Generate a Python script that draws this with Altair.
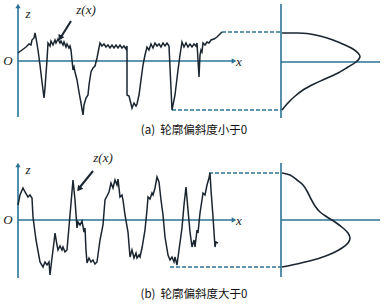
import altair as alt
import pandas as pd

# ---------------- data (diagram coordinates, y grows downward) ----------------
# Profile (a): skewness < 0
prof_a_x = [18, 22, 26, 29, 31, 32, 34, 35, 36, 38, 40, 42, 44, 45, 47, 48, 50, 51, 53, 55,
            56, 58, 60, 61, 63, 64, 66, 67, 69, 70, 71, 72, 73, 74, 75, 77, 79, 81, 83, 84,
            86, 88, 89, 91, 93, 95, 97, 99, 100, 102, 104, 106, 108, 110, 112, 114, 116, 118, 120, 122,
            124, 126, 127, 127, 129, 131, 132, 134, 136, 137, 139, 141, 143, 145, 147, 149, 151, 153, 155, 157,
            159, 161, 163, 165, 167, 169, 172, 175, 178, 180, 182, 184, 186, 188, 190, 192, 194, 196, 197, 198,
            199, 200, 201, 202, 203, 205, 207, 209, 211, 214, 217, 220, 222]
prof_a_y = [53, 50, 47, 44, 45, 40, 38, 33, 38, 50, 65, 82, 98, 88, 60, 43, 46, 41, 45, 40,
            43, 39, 43, 41, 45, 42, 47, 44, 48, 46, 50, 60, 70, 67, 72, 80, 92, 103, 115, 105,
            98, 95, 85, 72, 68, 66, 58, 48, 43, 46, 44, 47, 45, 48, 45, 48, 45, 48, 45, 48,
            46, 49, 46, 95, 96, 104, 108, 103, 106, 104, 95, 80, 65, 55, 47, 50, 44, 48, 43, 46,
            44, 47, 43, 46, 43, 46, 110, 95, 70, 55, 42, 47, 43, 47, 44, 47, 44, 46, 43, 60,
            77, 55, 50, 52, 43, 45, 42, 43, 40, 39, 37, 34, 32]

# Profile (b): skewness > 0
prof_b_x = [18, 20, 23, 25, 28, 30, 32, 33, 36, 40, 43, 45, 47, 49, 50, 52, 54, 55, 57, 58,
            60, 62, 63, 65, 67, 70, 73, 75, 77, 78, 80, 82, 84, 85, 86, 87, 89, 91, 93, 95,
            97, 100, 103, 105, 107, 109, 111, 113, 115, 117, 118, 120, 122, 123, 125, 128, 130, 132, 134, 136,
            137, 139, 140, 142, 145, 147, 148, 150, 152, 153, 155, 157, 159, 161, 163, 165, 168, 170, 172, 174,
            175, 177, 179, 182, 184, 186, 188, 190, 192, 194, 195, 197, 198, 200, 202, 203, 205, 207, 209, 210,
            211, 213, 215, 216, 218]
prof_b_y = [205, 195, 188, 192, 197, 195, 198, 217, 240, 262, 267, 262, 265, 262, 275, 258, 242, 233, 245, 250,
            246, 250, 247, 252, 250, 215, 180, 200, 228, 222, 225, 221, 232, 228, 250, 263, 258, 262, 260, 264,
            262, 240, 225, 200, 196, 192, 183, 188, 180, 185, 179, 197, 195, 200, 215, 232, 257, 250, 258, 253,
            258, 255, 257, 248, 230, 210, 197, 199, 193, 195, 188, 177, 182, 200, 215, 237, 255, 260, 257, 262,
            257, 265, 250, 228, 205, 187, 210, 232, 247, 240, 247, 230, 233, 213, 200, 193, 195, 185, 178, 173,
            190, 217, 247, 242, 243]

# Height distribution curves (right panels)
dist_a_x = [282, 295, 307, 320, 333, 345, 353, 358, 360, 356, 348, 338, 325, 314, 303, 294, 287, 282]
dist_a_y = [33, 33, 33.5, 36, 40, 45, 49, 53, 57, 62, 67, 73, 79, 84, 90, 97, 104, 110]
dist_b_x = [282, 290, 297, 303, 307, 311, 315, 320, 327, 335, 343, 348, 350, 348, 342, 333, 320, 305, 292, 282]
dist_b_y = [173, 175, 180, 185, 191, 199, 206, 212, 217, 222, 228, 233, 238, 243, 248, 253, 258, 262, 265, 267]

# Axes segments: x1, y1, x2, y2
axis_x1 = [18, 18, 281, 281, 18, 18, 281, 281]
axis_y1 = [7, 61, 4, 62, 166, 220, 163, 220]
axis_x2 = [18, 232, 281, 380, 18, 232, 281, 380]
axis_y2 = [117, 61, 118, 62, 278, 220, 277, 220]

# Dashed projection lines
dash_x1 = [222, 172, 209, 170]
dash_y1 = [32, 110, 173, 267]
dash_x2 = [281, 281, 281, 281]
dash_y2 = [32, 110, 173, 267]

# Arrow heads: x, y, angle
head_x = [18, 234, 18, 234, 60, 79]
head_y = [6, 61, 165, 220, 38, 189]
head_angle = [0, 90, 0, 90, 210, 217]

# z(x) pointer lines
ptr_x1 = [71, 93]
ptr_y1 = [21, 171]
ptr_x2 = [61, 80]
ptr_y2 = [37, 187]

# Labels
lab_text = ["z", "O", "x", "z(x)", "z", "O", "x", "z(x)"]
lab_x = [28, 8, 239, 86, 28, 8, 239, 103]
lab_y = [14, 61, 62, 10, 170, 220, 221, 158]

cap_text = ["(a)\u00a0\u00a0轮廓偏斜度小于0", "(b)\u00a0\u00a0轮廓偏斜度大于0"]
cap_x = [194, 194]
cap_y = [131, 295]

# ---------------- chart ----------------
AX = "#2a7396"
PR = "#1a2530"

xs = alt.Scale(domain=[0, 392], nice=False, zero=False)
ys = alt.Scale(domain=[307, 0], nice=False, zero=False)

def X(f="x"):
    return alt.X(f"{f}:Q", scale=xs, axis=None)

def Y(f="y"):
    return alt.Y(f"{f}:Q", scale=ys, axis=None)

prof = pd.concat([
    pd.DataFrame({"x": prof_a_x, "y": prof_a_y, "g": "a", "i": range(len(prof_a_x))}),
    pd.DataFrame({"x": prof_b_x, "y": prof_b_y, "g": "b", "i": range(len(prof_b_x))}),
])
dist = pd.concat([
    pd.DataFrame({"x": dist_a_x, "y": dist_a_y, "g": "a", "i": range(len(dist_a_x))}),
    pd.DataFrame({"x": dist_b_x, "y": dist_b_y, "g": "b", "i": range(len(dist_b_x))}),
])
axes = pd.DataFrame({"x": axis_x1, "y": axis_y1, "x2": axis_x2, "y2": axis_y2})
dashes = pd.DataFrame({"x": dash_x1, "y": dash_y1, "x2": dash_x2, "y2": dash_y2})
heads = pd.DataFrame({"x": head_x, "y": head_y, "a": head_angle})
ptrs = pd.DataFrame({"x": ptr_x1, "y": ptr_y1, "x2": ptr_x2, "y2": ptr_y2})
labs = pd.DataFrame({"t": lab_text, "x": lab_x, "y": lab_y})
caps = pd.DataFrame({"t": cap_text, "x": cap_x, "y": cap_y})

axis_layer = alt.Chart(axes).mark_rule(color=AX, strokeWidth=1.6).encode(
    x=X(), y=Y(), x2="x2:Q", y2="y2:Q")
dash_layer = alt.Chart(dashes).mark_rule(color=AX, strokeWidth=1.3, strokeDash=[4, 2]).encode(
    x=X(), y=Y(), x2="x2:Q", y2="y2:Q")
head_layer = alt.Chart(heads.iloc[:4]).mark_point(shape="triangle-up", filled=True, size=28, opacity=1,
                                                  color=AX).encode(
    x=X(), y=Y(), angle=alt.Angle("a:Q", scale=None))
ptr_layer = alt.Chart(ptrs).mark_rule(color=PR, strokeWidth=2).encode(
    x=X(), y=Y(), x2="x2:Q", y2="y2:Q")
ptr_head = alt.Chart(heads.iloc[4:]).mark_point(shape="triangle-up", filled=True, size=45, opacity=1,
                                                color=PR).encode(
    x=X(), y=Y(), angle=alt.Angle("a:Q", scale=None))
prof_layer = alt.Chart(prof).mark_line(color=PR, strokeWidth=1.5, strokeJoin="miter").encode(
    x=X(), y=Y(), detail="g:N", order="i:Q")
dist_layer = alt.Chart(dist).mark_line(color=PR, strokeWidth=1.6, interpolate="cardinal").encode(
    x=X(), y=Y(), detail="g:N", order="i:Q")
lab_layer = alt.Chart(labs).mark_text(font="Liberation Serif", fontStyle="italic", fontSize=13,
                                      color="#1a1a1a", align="center", baseline="middle").encode(
    x=X(), y=Y(), text="t:N")
cap_layer = alt.Chart(caps).mark_text(font="Noto Sans CJK SC", fontSize=11.5, color="#111111",
                                      align="center", baseline="middle").encode(
    x=X(), y=Y(), text="t:N")

chart = alt.layer(axis_layer, dash_layer, head_layer, prof_layer, dist_layer, ptr_layer, ptr_head,
                  lab_layer, cap_layer).properties(
    width=392, height=307,
    autosize=alt.AutoSizeParams(type="fit", contains="padding"),
    padding=0,
    background="white",
).configure_view(stroke=None)

chart.save("out.html", embed_options={"renderer": "svg", "actions": False})
